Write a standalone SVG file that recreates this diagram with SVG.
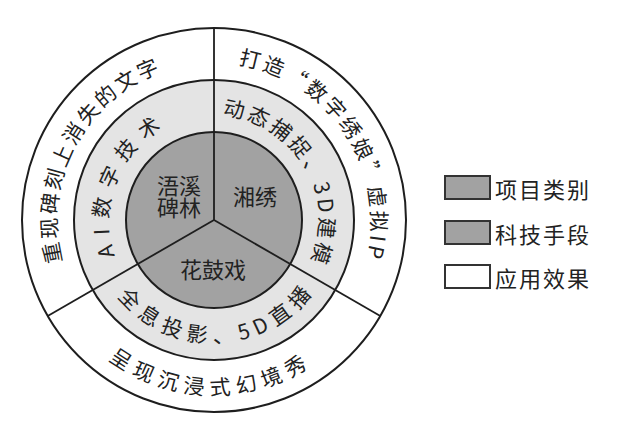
<svg xmlns="http://www.w3.org/2000/svg" width="630" height="436" viewBox="0 0 630 436">
<style>
  text { font-family: "Noto Sans CJK SC", "Noto Sans", sans-serif; fill: #222; }
  .ring { stroke: #1e1e1e; stroke-width: 2; }
  .div { stroke: #1e1e1e; stroke-width: 1.8; fill: none; }
  .t21 { font-size: 21px; dominant-baseline: central; }
  .t22 { font-size: 22px; text-anchor: middle; dominant-baseline: central; }
  .leg { font-size: 22px; letter-spacing: 2px; dominant-baseline: central; }
  .box { stroke: #333; stroke-width: 2; }
</style>
<defs>
  <path id="pOutL" d="M111.8,350.8 A166,166 0 0 1 265.3,62.1"/>
  <path id="pOutR" d="M149.1,67.2 A166,166 0 0 1 327.2,341.4"/>
  <path id="pOutB" d="M49.8,244.5 A166,166 0 0 0 376.7,253.1"/>
  <path id="pMidL" d="M151.9,315.6 A114,114 0 0 1 239.6,108.9"/>
  <path id="pMidR" d="M175,112.9 A114,114 0 0 1 287.3,307.3"/>
  <path id="pMidB" d="M102.3,242.9 A114,114 0 0 0 326.8,236.7"/>
</defs>
<rect width="630" height="436" fill="#ffffff"/>
<g id="rings">
  <circle id="ring-outer" class="ring" cx="214" cy="220" r="192" fill="#ffffff"/>
  <circle id="ring-middle" class="ring" cx="214" cy="220" r="140" fill="#e4e4e4"/>
  <circle id="ring-inner" class="ring" cx="214" cy="220" r="88" fill="#a2a2a2"/>
</g>
<g id="connectors">
  <line class="div" x1="214" y1="220" x2="214" y2="28"/>
  <line class="div" x1="214" y1="220" x2="47.7" y2="316"/>
  <line class="div" x1="214" y1="220" x2="380.3" y2="316"/>
</g>
<g id="node-wuxi">
  <text class="t22" x="179" y="184">浯溪</text>
  <text class="t22" x="179" y="206">碑林</text>
</g>
<g id="node-xiangxiu">
  <text class="t22" x="255" y="195">湘绣</text>
</g>
<g id="node-huaguxi">
  <text class="t22" x="213" y="268">花鼓戏</text>
</g>
<g id="node-ai">
  <text class="t21" letter-spacing="11"><textPath href="#pMidL" startOffset="50%" text-anchor="middle">AI数字技术</textPath></text>
</g>
<g id="node-motion">
  <text class="t21" letter-spacing="5"><textPath href="#pMidR" startOffset="50%" text-anchor="middle">动态捕捉、3D建模</textPath></text>
</g>
<g id="node-holo">
  <text class="t21" letter-spacing="4.5"><textPath href="#pMidB" startOffset="50%" text-anchor="middle">全息投影、5D直播</textPath></text>
</g>
<g id="node-reproduce">
  <text class="t21" letter-spacing="4"><textPath href="#pOutL" startOffset="50%" text-anchor="middle">重现碑刻上消失的文字</textPath></text>
</g>
<g id="node-ip">
  <text class="t21" letter-spacing="4"><textPath href="#pOutR" startOffset="50%" text-anchor="middle">打造“数字绣娘”虚拟IP</textPath></text>
</g>
<g id="node-show">
  <text class="t21" letter-spacing="5"><textPath href="#pOutB" startOffset="50%" text-anchor="middle">呈现沉浸式幻境秀</textPath></text>
</g>
<g id="legend">
  <g id="legend-category">
    <rect class="box" x="445" y="176" width="45" height="23" fill="#a2a2a2"/>
    <text class="leg" x="495" y="188">项目类别</text>
  </g>
  <g id="legend-tech">
    <rect class="box" x="445" y="221" width="45" height="23" fill="#a2a2a2"/>
    <text class="leg" x="495" y="233">科技手段</text>
  </g>
  <g id="legend-effect">
    <rect class="box" x="445" y="265" width="45" height="23" fill="#ffffff"/>
    <text class="leg" x="495" y="277">应用效果</text>
  </g>
</g>
</svg>
